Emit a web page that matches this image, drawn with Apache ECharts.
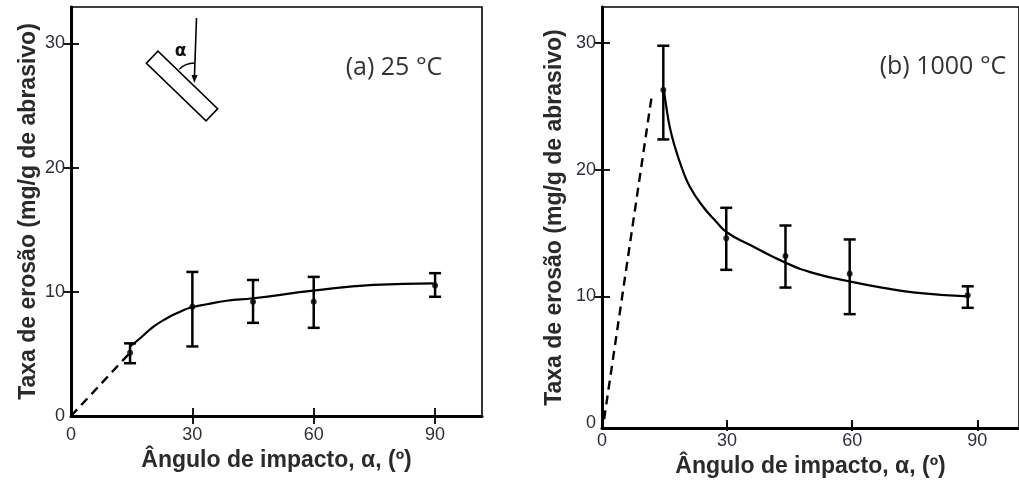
<!DOCTYPE html>
<html>
<head>
<meta charset="utf-8">
<script src="https://cdn.jsdelivr.net/npm/echarts@6/dist/echarts.min.js"></script>
<style>html,body{margin:0;padding:0;background:#fff}#c{width:1019px;height:483px}</style>
</head>
<body>
<div id="c"></div>
<script>
// ---------- data (a) 25 °C ----------
const aX = [14.6, 30, 45, 60, 90];
const aY = [5.1, 8.8, 9.2, 9.2, 10.5];
const aLow = [4.25, 5.6, 7.5, 7.1, 9.6];
const aHigh = [5.85, 11.6, 10.95, 11.2, 11.5];
const aCurveX = [14.6, 17.1, 20.4, 23.7, 27.0, 29.4, 33.6, 38.5, 45.1, 59.9, 74.8, 89.6];
const aCurveY = [5.6, 6.26, 7.19, 7.87, 8.4, 8.72, 9.0, 9.28, 9.48, 10.09, 10.55, 10.68];
const aDashX = [0, 14.6];
const aDashY = [0, 5.1];
// ---------- data (b) 1000 °C ----------
const bX = [14.7, 29.8, 44, 59.4, 87.7];
const bY = [26.3, 14.6, 13.2, 11.8, 10.1];
const bLow = [22.4, 12.1, 10.7, 8.6, 9.1];
const bHigh = [29.8, 17.0, 15.6, 14.5, 10.8];
const bCurveX = [14.85, 15.5, 16.3, 17.5, 19.1, 21.0, 24.2, 27.4, 30.0, 35.3, 44.1, 51.2, 59.2, 67.1, 75.1, 87.8];
const bCurveY = [26.3, 24.8, 23.3, 21.8, 20.2, 18.7, 17.1, 15.9, 15.05, 14.1, 12.65, 11.8, 11.2, 10.7, 10.3, 10.0];
const bDashX = [0.5, 12];
const bDashY = [0.3, 26];
// ---------- ticks / labels ----------
const xTicks = [0, 30, 60, 90];
const yTicks = [0, 10, 20, 30];
const xInnerTicks = [30, 60, 90];
const yInnerTicks = [10, 20, 30];
const xName = 'Ângulo de impacto, α, (º)';
const yName = 'Taxa de erosão (mg/g de abrasivo)';
const panelA = '(a) 25 °C';
const panelB = '(b) 1000 °C';

const zip = (xs, ys) => xs.map((x, i) => [x, ys[i]]);
const errData = (xs, ys, lo, hi) => xs.map((x, i) => [x, ys[i], lo[i], hi[i]]);

const labelStyle = {fontFamily: 'Liberation Sans, Arial, sans-serif', fontSize: 18, color: '#2e2e3a'};
const nameStyle = {fontFamily: 'Liberation Sans, Arial, sans-serif', fontSize: 23, fontWeight: 'bold', color: '#2a2a2a'};

function bottomX(grid, max, gap, lblMargin) {
  return {
    type: 'value', gridIndex: grid, position: 'bottom', min: 0, max: max,
    name: xName, nameLocation: 'middle', nameGap: gap, nameTextStyle: nameStyle,
    axisLine: {show: true, onZero: false, lineStyle: {color: '#000', width: 3}},
    axisTick: {show: true, inside: true, length: 8, customValues: xInnerTicks, lineStyle: {color: '#000', width: 1.8}},
    axisLabel: {show: true, customValues: xTicks, margin: lblMargin, ...labelStyle},
    splitLine: {show: false}
  };
}
function topX(grid, max) {
  return {
    type: 'value', gridIndex: grid, position: 'top', min: 0, max: max,
    axisLine: {show: false},
    axisTick: {show: true, inside: true, length: 8, customValues: xInnerTicks, lineStyle: {color: '#000', width: 1.8}},
    axisLabel: {show: false}, splitLine: {show: false}
  };
}
function leftY(grid, min, max, gap) {
  return {
    type: 'value', gridIndex: grid, position: 'left', min: min, max: max,
    name: yName, nameLocation: 'middle', nameGap: gap, nameTextStyle: nameStyle,
    axisLine: {show: true, onZero: false, lineStyle: {color: '#000', width: 3}},
    axisTick: {show: true, inside: true, length: 8, customValues: yInnerTicks, lineStyle: {color: '#000', width: 1.8}},
    axisLabel: {show: true, customValues: yTicks, margin: 6, ...labelStyle},
    splitLine: {show: false}
  };
}
function rightY(grid, min, max) {
  return {
    type: 'value', gridIndex: grid, position: 'right', min: min, max: max,
    axisLine: {show: false},
    axisTick: {show: true, inside: true, length: 8, customValues: yInnerTicks, lineStyle: {color: '#000', width: 1.8}},
    axisLabel: {show: false}, splitLine: {show: false}
  };
}

function errSeries(xi, yi, data) {
  return {
    type: 'custom', xAxisIndex: xi, yAxisIndex: yi, data: data, z: 5,
    encode: {x: 0, y: 1},
    renderItem: function (params, api) {
      const x = api.value(0), lo = api.value(2), hi = api.value(3);
      const p1 = api.coord([x, lo]), p2 = api.coord([x, hi]);
      const w = 6;
      const st = {stroke: '#000', lineWidth: 2.5};
      return {type: 'group', children: [
        {type: 'line', shape: {x1: p1[0], y1: p1[1], x2: p2[0], y2: p2[1]}, style: st},
        {type: 'line', shape: {x1: p1[0] - w, y1: p1[1], x2: p1[0] + w, y2: p1[1]}, style: st},
        {type: 'line', shape: {x1: p2[0] - w, y1: p2[1], x2: p2[0] + w, y2: p2[1]}, style: st}
      ]};
    }
  };
}
function curve(xi, yi, data, dashed, smooth) {
  return {
    type: 'line', xAxisIndex: xi, yAxisIndex: yi, data: data, smooth: smooth, symbol: 'none',
    lineStyle: {color: '#000', width: dashed ? 2.4 : 2.2, type: dashed ? [9, 6] : 'solid'}, z: 4, animation: false
  };
}
function dots(xi, yi, data) {
  return {type: 'scatter', xAxisIndex: xi, yAxisIndex: yi, data: data, symbolSize: 6,
    itemStyle: {color: '#000'}, z: 6};
}

const deg = Math.PI / 180;
const chart = echarts.init(document.getElementById('c'), null, {renderer: 'canvas'});
chart.setOption({
  animation: false,
  backgroundColor: '#fff',
  grid: [
    {left: 71, top: 7, width: 411, height: 409, show: true, borderColor: '#000', borderWidth: 1.6, backgroundColor: 'transparent'},
    {left: 602, top: 7, width: 419, height: 423, show: true, borderColor: '#000', borderWidth: 1.6, backgroundColor: 'transparent'}
  ],
  xAxis: [bottomX(0, 101.6, 32, 10), topX(0, 101.6), bottomX(1, 100, 24, 4), topX(1, 100)],
  yAxis: [leftY(0, 0, 32.93, 31), rightY(0, 0, 32.93), leftY(1, -0.4, 32.86, 36), rightY(1, -0.4, 32.86)],
  series: [
    curve(0, 0, zip(aDashX, aDashY), true, false),
    curve(0, 0, zip(aCurveX, aCurveY), false, 0.5),
    errSeries(0, 0, errData(aX, aY, aLow, aHigh)),
    dots(0, 0, zip(aX, aY)),
    curve(2, 2, zip(bDashX, bDashY), true, false),
    curve(2, 2, zip(bCurveX, bCurveY), false, 0.5),
    errSeries(2, 2, errData(bX, bY, bLow, bHigh)),
    dots(2, 2, zip(bX, bY))
  ],
  graphic: [
    {type: 'text', x: 394, y: 68, style: {text: panelA, font: '25px "Open Sans", sans-serif', fill: '#333', align: 'center', verticalAlign: 'middle'}},
    {type: 'text', x: 943, y: 67, style: {text: panelB, font: '25px "Open Sans", sans-serif', fill: '#333', align: 'center', verticalAlign: 'middle'}},
    // inset diagram
    {type: 'rect', x: 182, y: 86, rotation: -44 * deg, shape: {x: -41.5, y: -8.35, width: 83, height: 16.7},
      style: {fill: '#fff', stroke: '#000', lineWidth: 1.6}},
    {type: 'line', shape: {x1: 196.5, y1: 18, x2: 194.4, y2: 78}, style: {stroke: '#000', lineWidth: 1.6}},
    {type: 'polygon', shape: {points: [[191.5, 75], [197.5, 75], [194.3, 83]]}, style: {fill: '#000'}},
    {type: 'arc', shape: {cx: 194.3, cy: 84, r: 21, startAngle: 224 * deg, endAngle: 270 * deg, clockwise: true},
      style: {stroke: '#000', fill: 'none', lineWidth: 1.3}},
    {type: 'text', x: 180.5, y: 52, style: {text: 'α', font: 'bold 17px "DejaVu Sans", sans-serif', fill: '#111', align: 'center', verticalAlign: 'middle'}}
  ]
});
</script>
</body>
</html>
